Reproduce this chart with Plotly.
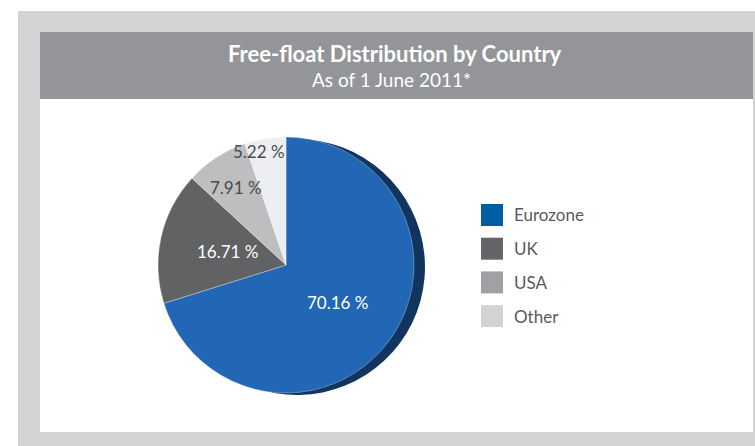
import math
import plotly.graph_objects as go

# Free-float shares by country (%)
labels = ["Eurozone", "UK", "USA", "Other"]
shares = [70.16, 16.71, 7.91, 5.22]

slice_colors = ["#2167B6", "#616264", "#BDBEC0", "#ECEEF3"]
legend_colors = ["#005CA5", "#646569", "#A0A1A5", "#D1D3D4"]
label_colors = ["#FFFFFF", "#FFFFFF", "#4A4A4A", "#4A4A4A"]
# radial position of each percentage label, as a fraction of the radius
label_radius = [0.50, 0.47, 0.72, 0.90]
label_xshift = [0, 0, 0, -8]

W, H = 755, 446
FONT = "Lato"


def px(x):
    return x / W


def py(y):
    return 1 - y / H


# pie geometry in pixels
cx, cy, r = 286, 265, 128
side = 11  # depth of the rim on the right

fig = go.Figure()

# dark rim behind the Eurozone slice
fig.add_trace(go.Pie(
    labels=labels, values=shares, sort=False, direction="clockwise", rotation=0,
    marker=dict(colors=["#12355F", "rgba(0,0,0,0)", "rgba(0,0,0,0)", "rgba(0,0,0,0)"],
                line=dict(width=0)),
    textinfo="none", hoverinfo="skip", showlegend=False,
    domain=dict(x=[px(cx - r + side), px(cx + r + side)], y=[py(cy + r + 2), py(cy - r + 2)]),
))

# front face
fig.add_trace(go.Pie(
    labels=labels, values=shares, sort=False, direction="clockwise", rotation=0,
    marker=dict(colors=slice_colors, line=dict(color="rgba(255,255,255,0.6)", width=0.5)),
    textinfo="none",
    hovertemplate="%{label}: %{value:.2f} %<extra></extra>",
    showlegend=False,
    domain=dict(x=[px(cx - r), px(cx + r)], y=[py(cy + r), py(cy - r)]),
))

shapes = [
    # outer grey frame
    dict(type="rect", xref="paper", yref="paper", x0=px(18), x1=px(755), y0=py(446), y1=py(11),
         fillcolor="#D1D3D4", line=dict(width=0), layer="below"),
    # white panel
    dict(type="rect", xref="paper", yref="paper", x0=px(40), x1=px(753), y0=py(432), y1=py(32),
         fillcolor="#FFFFFF", line=dict(width=0), layer="below"),
    # header band
    dict(type="rect", xref="paper", yref="paper", x0=px(40), x1=px(753), y0=py(99), y1=py(32),
         fillcolor="#939598", line=dict(width=0), layer="below"),
]

annotations = [
    dict(text="<b>Free-float Distribution by Country</b>", x=px(395), y=py(53),
         xref="paper", yref="paper", showarrow=False, xanchor="center", yanchor="middle",
         font=dict(family=FONT, size=22, color="#FFFFFF")),
    dict(text="As of 1 June 2011*", x=px(391), y=py(79.5),
         xref="paper", yref="paper", showarrow=False, xanchor="center", yanchor="middle",
         font=dict(family=FONT, size=19, color="#FFFFFF")),
]

# percentage labels at the middle angle of each slice (clockwise from 12 o'clock)
total = sum(shares)
cum = 0.0
for val, col, f, xs in zip(shares, label_colors, label_radius, label_xshift):
    theta = math.radians((cum + val / 2) / total * 360)
    cum += val
    lx = cx + f * r * math.sin(theta)
    ly = cy - f * r * math.cos(theta)
    annotations.append(dict(text=f"{val:.2f} %", x=px(lx), y=py(ly), xshift=xs,
                            xref="paper", yref="paper", showarrow=False,
                            xanchor="center", yanchor="middle",
                            font=dict(family=FONT, size=17, color=col)))

# legend: colour swatches with labels
leg_x0, leg_size, leg_y0, leg_step = 481, 22, 215, 33.7
for i, (name, col) in enumerate(zip(labels, legend_colors)):
    yc = leg_y0 + i * leg_step
    shapes.append(dict(type="rect", xref="paper", yref="paper",
                       x0=px(leg_x0), x1=px(leg_x0 + leg_size),
                       y0=py(yc + leg_size / 2), y1=py(yc - leg_size / 2),
                       fillcolor=col, line=dict(width=0)))
    annotations.append(dict(text=name, x=px(512), y=py(yc), xref="paper", yref="paper",
                            showarrow=False, xanchor="left", yanchor="middle",
                            font=dict(family=FONT, size=17, color="#5A5A5A")))

fig.update_layout(
    width=W, height=H,
    margin=dict(l=0, r=0, t=0, b=0),
    paper_bgcolor="#FFFFFF",
    plot_bgcolor="#FFFFFF",
    shapes=shapes,
    annotations=annotations,
    showlegend=False,
)

fig.write_html("out.html")
